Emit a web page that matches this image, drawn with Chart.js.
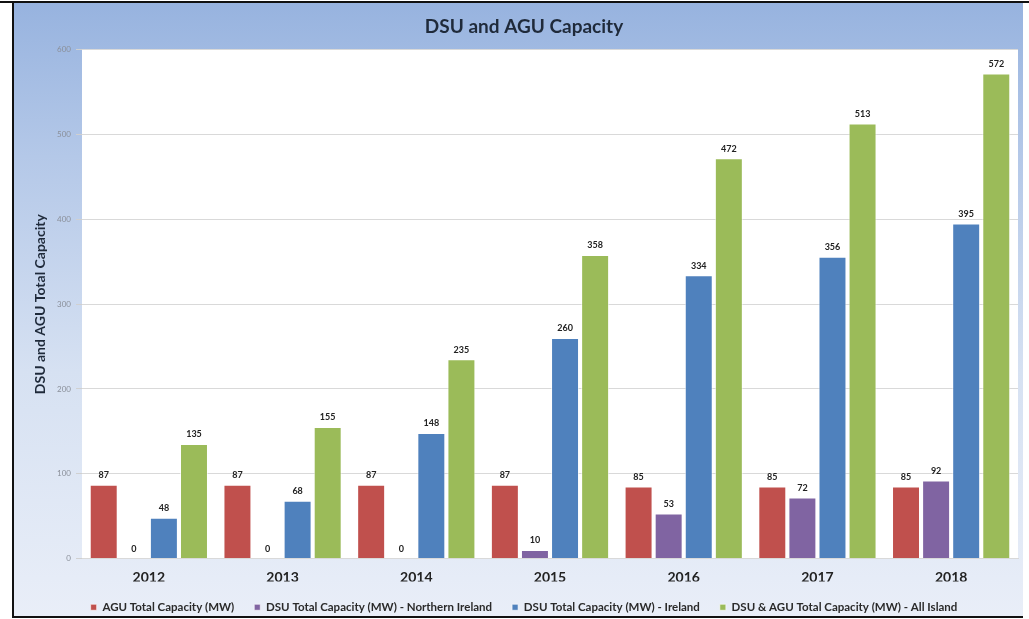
<!DOCTYPE html>
<html>
<head>
<meta charset="utf-8">
<script src="https://cdn.jsdelivr.net/npm/chart.js@4/dist/chart.umd.min.js"></script>
<style>
  html, body { margin: 0; padding: 0; background: #fff; }
  #wrap { position: absolute; left: 0; top: 0; width: 1029px; height: 619px; }
</style>
</head>
<body>
<div id="wrap"><canvas id="capacity"></canvas></div>
<script>
//-----------------Data
const years = ['2012', '2013', '2014', '2015', '2016', '2017', '2018']
const agu_total = [87, 87, 87, 87, 85, 85, 85]
const dsu_ni = [0, 0, 0, 10, 53, 72, 92]
const dsu_ireland = [48, 68, 148, 260, 334, 356, 395]
const all_island = [135, 155, 235, 358, 472, 513, 572]
const y_ticks = [0, 100, 200, 300, 400, 500, 600]

const FONT = 'Lato, "Open Sans", sans-serif'

//-----------------Frame + gradient behind everything
const framePlugin = {
  id: 'frame',
  beforeDraw(chart) {
    const ctx = chart.ctx
    const w = chart.width, h = chart.height
    ctx.save()
    ctx.fillStyle = '#ffffff'
    ctx.fillRect(0, 0, w, h)
    const grad = ctx.createLinearGradient(0, 3, 0, 617)
    grad.addColorStop(0, '#97b3df')
    grad.addColorStop(0.25, '#b4c8e8')
    grad.addColorStop(0.6, '#d6e1f2')
    grad.addColorStop(1, '#e9eef8')
    ctx.fillStyle = grad
    ctx.fillRect(13, 3, 1010, 614)
    // black edges top/left/bottom
    ctx.fillStyle = '#111111'
    ctx.fillRect(0, 1, w, 2)
    ctx.fillRect(12, 1, 2, 617)
    ctx.fillRect(12, 616, 1011, 2)
    // white plot area
    const a = chart.chartArea
    ctx.fillStyle = '#ffffff'
    ctx.fillRect(a.left, a.top, a.right - a.left, a.bottom - a.top)
    ctx.restore()
  }
}

//-----------------Value labels above bars
const valueLabels = {
  id: 'valueLabels',
  afterDatasetsDraw(chart) {
    const ctx = chart.ctx
    ctx.save()
    ctx.font = 'bold 9px ' + FONT
    ctx.fillStyle = '#222222'
    ctx.textAlign = 'center'
    ctx.textBaseline = 'bottom'
    chart.data.datasets.forEach(function(ds, i) {
      const meta = chart.getDatasetMeta(i)
      meta.data.forEach(function(bar, j) {
        ctx.fillText(String(ds.data[j]), bar.x, bar.y - 5)
      })
    })
    ctx.restore()
  }
}

const ctx = document.getElementById('capacity').getContext('2d')
GraphCapacity = new Chart(ctx, {
  type: 'bar',
  data: {
    labels: years,
    datasets: [
      { label: 'AGU Total Capacity (MW)', data: agu_total, backgroundColor: '#c0504d' },
      { label: 'DSU Total Capacity (MW) - Northern Ireland', data: dsu_ni, backgroundColor: '#8064a2' },
      { label: 'DSU Total Capacity (MW) - Ireland', data: dsu_ireland, backgroundColor: '#4f81bd' },
      { label: 'DSU & AGU Total Capacity (MW) - All Island', data: all_island, backgroundColor: '#9bbb59' }
    ]
  },
  options: {
    responsive: true,
    maintainAspectRatio: false,
    animation: false,
    datasets: {
      bar: {
        categoryPercentage: 0.9,
        barPercentage: 0.93,
        borderWidth: 1,
        borderColor: 'rgba(255,255,255,0.6)'
      }
    },
    layout: { padding: { left: 30, right: 11, top: 0, bottom: -4 } },
    plugins: {
      title: {
        display: true,
        text: 'DSU and AGU Capacity',
        color: '#1f2a3a',
        font: { family: FONT, size: 19, weight: 'bold' },
        padding: { top: 15, bottom: 12 }
      },
      legend: {
        position: 'bottom',
        labels: {
          boxWidth: 6,
          boxHeight: 6,
          padding: 20,
          color: '#2a2a2a',
          font: { family: FONT, size: 11.5, weight: 'bold' }
        }
      },
      tooltip: { enabled: false }
    },
    scales: {
      x: {
        grid: { display: false },
        border: { display: true, color: '#d9d9d9' },
        afterFit(axis) { axis.height = 23 },
        ticks: {
          color: '#222222',
          padding: 3,
          font: { family: FONT, size: 14, weight: 'bold' }
        }
      },
      y: {
        min: 0,
        max: 600,
        afterBuildTicks(axis) {
          axis.ticks = y_ticks.map(v => ({ value: v }))
        },
        afterFit(axis) { axis.width = 52 },
        grid: { color: '#d9d9d9', drawTicks: true, tickLength: 6, tickColor: '#d0d0d0' },
        border: { display: false },
        title: {
          display: true,
          text: 'DSU and AGU Total Capacity',
          color: '#1f2a3a',
          font: { family: FONT, size: 14, weight: 'bold' },
          padding: 2
        },
        ticks: {
          color: '#8a8f99',
          padding: 5,
          font: { family: FONT, size: 8 }
        }
      }
    }
  },
  plugins: [framePlugin, valueLabels]
})
</script>
</body>
</html>
